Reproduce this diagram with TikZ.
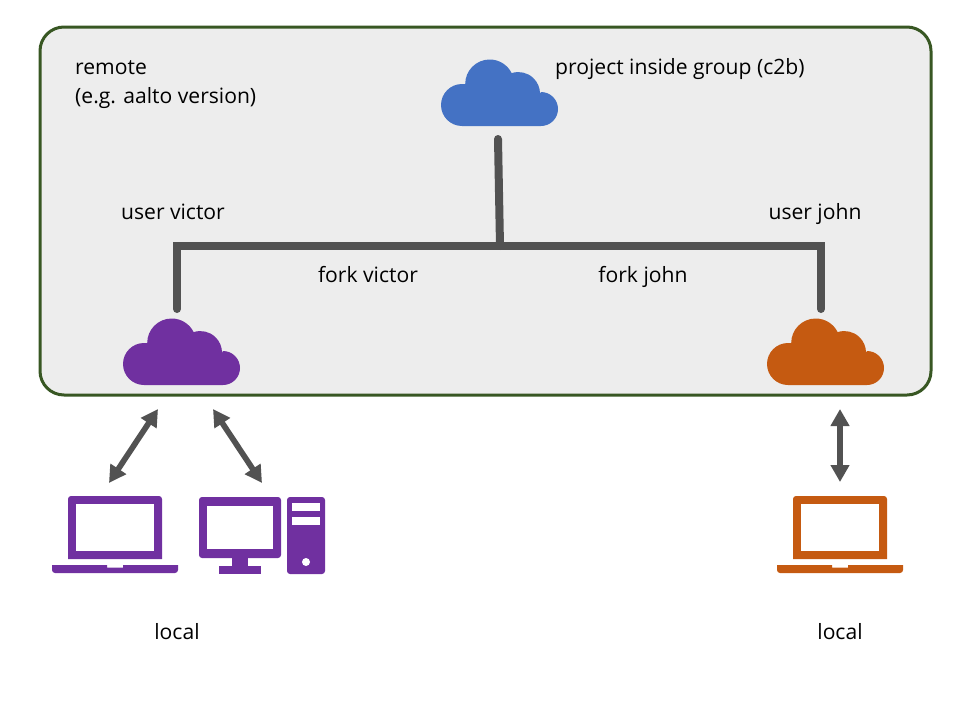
\documentclass[tikz,border=0pt]{standalone}
\usepackage{fontspec}
\setmainfont{Open Sans}
\usetikzlibrary{arrows.meta}
\definecolor{panelfill}{HTML}{EDEDED}
\definecolor{paneledge}{HTML}{385723}
\definecolor{linkgray}{HTML}{525252}
\definecolor{cloudblue}{HTML}{4472C4}
\definecolor{userpurple}{HTML}{7030A0}
\definecolor{userorange}{HTML}{C55A11}
\tikzset{font=\fontsize{21.1}{24}\selectfont,
  cloudicon/.pic={
    \fill[y=1pt] (21,0) arc[start angle=270,end angle=90,radius=21]
      -- (24.2,42) arc[start angle=180,end angle=26,radius=24.5]
      -- (71,53) arc[start angle=107,end angle=0,radius=21.7]
      -- (100,34) arc[start angle=90,end angle=-90,radius=17] -- cycle;
  },
  laptopicon/.pic={
    \fill[y=1pt] (16,14) -- (16,74) [rounded corners=3] -- (16,77) -- (110,77) [sharp corners] -- (110,14) -- cycle;
    \fill[y=1pt,white] (24,22) rectangle (102,69);
    \fill[y=1pt] (0,8) [rounded corners=3] -- (0,0) -- (126,0) [sharp corners] -- (126,8) -- (71,8) -- (71,5.5) -- (55,5.5) -- (55,8) -- cycle;
  },
  desktopicon/.pic={
    \fill[y=1pt,rounded corners=3] (0,16) rectangle (82,77);
    \fill[y=1pt,white] (8,25) rectangle (74,68);
    \fill[y=1pt] (33,8) rectangle (49,16);
    \fill[y=1pt] (20,0) rectangle (62,8);
    \fill[y=1pt,rounded corners=3] (88,0) rectangle (126,77);
    \fill[y=1pt,white] (93,63) rectangle (121,71);
    \fill[y=1pt,white] (93,49) rectangle (121,57);
    \fill[y=1pt,white] (107,12) circle (4);
  },
  panel/.style={draw=paneledge,fill=panelfill,line width=3,rounded corners=24},
  trunk/.style={draw=linkgray,line width=8,line cap=round},
  sync/.style={draw=linkgray,line width=5.7,{Triangle[length=17pt,width=18pt]}-{Triangle[length=17pt,width=18pt]}}
}
\begin{document}
\begin{tikzpicture}[x=1pt,y=-1pt,every node/.style={inner sep=0,text=black}]
      \useasboundingbox (0,0) rectangle (960,720);
      \draw[panel] (40,27) rectangle (931,395);

      \pic[cloudblue] (cloudGroup) at (441,126) {cloudicon};
      \pic[userpurple] (cloudVictor) at (123,385) {cloudicon};
      \pic[userorange] (cloudJohn) at (767,385) {cloudicon};

      \pic[userpurple] (laptopVictor) at (52,573) {laptopicon};
      \pic[userpurple] (desktopVictor) at (199,574) {desktopicon};
      \pic[userorange] (laptopJohn) at (777,573) {laptopicon};

      \node[anchor=base west] (Remote) at (75,74) {remote};
      \node[anchor=base west] (RemoteEg) at (75,103) {(e.g. aalto version)};
      \node[anchor=base west] (Group) at (555,74) {project inside group (c2b)};
      \node[anchor=base] (UserV) at (173,219) {user victor};
      \node[anchor=base] (UserJ) at (815,219) {user john};
      \node[anchor=base] (ForkV) at (368,282) {fork victor};
      \node[anchor=base] (ForkJ) at (643,282) {fork john};
      \node[anchor=base] (LocalV) at (177,639) {local};
      \node[anchor=base] (LocalJ) at (840,639) {local};

      \coordinate (StemTop) at (498,139);
      \coordinate (StemFoot) at (500,246);
      \coordinate (EndV) at (177,309);
      \coordinate (CornerV) at (177,246);
      \coordinate (CornerJ) at (821,246);
      \coordinate (EndJ) at (821,309);

      \coordinate (UpL) at (158,409);
      \coordinate (DownL) at (109,483);
      \coordinate (UpD) at (213,409);
      \coordinate (DownD) at (262,483);
      \coordinate (UpJ) at (840,409);
      \coordinate (DownJ) at (840,482);

      \draw[trunk] (StemTop) -- (StemFoot);
      \draw[trunk] (EndV) -- (CornerV) -- (CornerJ) -- (EndJ);

      \draw[sync] (UpL) -- (DownL);
      \draw[sync] (UpD) -- (DownD);
      \draw[sync] (UpJ) -- (DownJ);
  \end{tikzpicture}
\end{document}
